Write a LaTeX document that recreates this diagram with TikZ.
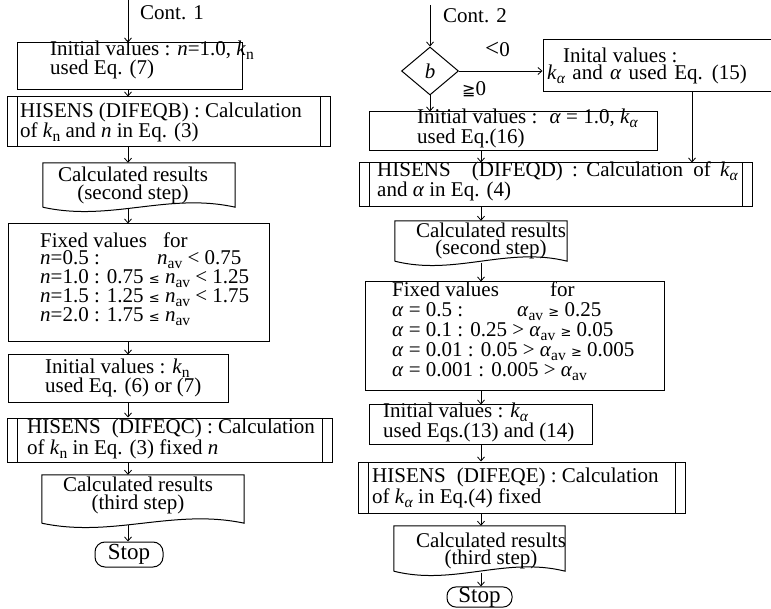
\documentclass[tikz,border=0pt]{standalone}
\usepackage{fontspec}
\setmainfont{Liberation Serif}
\newfontfamily\symfnt{DejaVu Sans}
\usetikzlibrary{arrows.meta,shapes.geometric,calc}
\newcommand\myfs[1]{\fontsize{21}{#1}\selectfont}
\newcommand\mysb[1]{\raisebox{-4pt}{\fontsize{15.5}{15.5}\selectfont #1}}
\newcommand\myal{\textit{α}}
\newcommand\myn{\textit{n}}
\newcommand\myKn{\textit{k}\mysb{n}}
\newcommand\myKa{\textit{k}\mysb{\textit{α}}}
\newcommand\myNav{\textit{n}\mysb{av}}
\newcommand\myAav{\textit{α}\mysb{av}}
\newcommand\myle{{\symfnt\fontsize{13}{13}\selectfont ≤}}
\newcommand\myge{{\symfnt\fontsize{13}{13}\selectfont ≥}}
\newcommand\docwave[1]{\draw[line width=1pt] (#1.south west) -- (#1.north west) -- (#1.north east) -- (#1.south east)
  .. controls ($(#1.south east)!0.35!(#1.south west)+(0,-15)$) and ($(#1.south west)!0.35!(#1.south east)+(0,15)$) .. (#1.south west);}
\tikzset{
  box/.style={draw, line width=1pt, inner sep=0pt},
  docbox/.style={inner sep=0pt},
  procbox/.style={draw, line width=1pt, inner sep=0pt,
    path picture={\draw[line width=1pt] ([xshift=10pt]path picture bounding box.north west) -- ([xshift=10pt]path picture bounding box.south west)
      ([xshift=-10pt]path picture bounding box.north east) -- ([xshift=-10pt]path picture bounding box.south east);}},
  stopbox/.style={draw, line width=1pt, inner sep=0pt, font=\fontsize{23}{20}\selectfont},
  txt/.style={inner sep=0pt, align=left, anchor=base west, font=\myfs{17}},
  ctxt/.style={inner sep=0pt, align=center, anchor=base, font=\myfs{17}},
  arr/.style={line width=0.8pt, -{Straight Barb[length=4pt,width=7pt]}},
}
\begin{document}
\begin{tikzpicture}[x=1pt,y=-1pt]
\useasboundingbox (0,0) rectangle (771,609);
\fill[white] (0,0) rectangle (771,609);
% ---------- left column ----------
\coordinate (Lx) at (128,0);
\node[box, minimum width=225pt, minimum height=47pt] (b1) at (129.5,66.5) {};
\node[procbox, minimum width=323pt, minimum height=50pt] (b2) at (168.5,122) {};
\node[docbox, minimum width=192pt, minimum height=44pt] (b3) at (139,185) {};
\docwave{b3}
\node[box, minimum width=261pt, minimum height=118pt] (b4) at (138.5,283) {};
\node[box, minimum width=220pt, minimum height=48pt] (b5) at (118,379) {};
\node[procbox, minimum width=325pt, minimum height=44pt] (b6) at (169.5,440) {};
\node[docbox, minimum width=202pt, minimum height=48pt] (b7) at (143,499) {};
\docwave{b7}
\node[stopbox, rounded corners=10pt, minimum width=68pt, minimum height=25pt] (b8) at (129,554.5) {Stop};

\node[txt] (cont1) at (140,20) {Cont. 1};
\node[txt] (t1) at (50,75) {Initial values : \myn=1.0, \myKn\\used Eq. (7)};
\node[txt, font=\myfs{16.5}] (t2) at (20,137.5) {HISENS (DIFEQB) : Calculation\\of \myKn{} and \myn{} in Eq. (3)};
\node[ctxt, font=\myfs{18}] (t3) at (133,200) {Calculated results\\(second step)};
\node[txt] (t4) at (40,322) {\makebox[123pt][l]{Fixed values}for\\
  \makebox[117pt][l]{\myn=0.5 :}\myNav{} < 0.75\\
  \myn=1.0 : 0.75 \myle{} \myNav{} < 1.25\\
  \myn=1.5 : 1.25 \myle{} \myNav{} < 1.75\\
  \myn=2.0 : 1.75 \myle{} \myNav};
\node[txt, font=\myfs{19}] (t5) at (45,392) {Initial values : \myKn\\used Eq. (6) or (7)};
\node[txt, font=\myfs{19}] (t6) at (27,454) {HISENS\hspace{6pt} (DIFEQC) : Calculation\\of \myKn{} in Eq. (3) fixed \myn};
\node[ctxt, font=\myfs{18}] (t7) at (138,509) {Calculated results\\(third step)};

\coordinate (c1) at (128,0);
\draw[arr] (c1) -- (b1.north -| c1);
\draw[arr] (b1.south -| Lx) -- (b2.north -| Lx);
\draw[arr] (b2.south -| Lx) -- (b3.north -| Lx);
\draw[arr] ([yshift=-1.5pt]b3.south -| Lx) -- (b4.north -| Lx);
\draw[arr] (b4.south -| Lx) -- (b5.north -| Lx);
\draw[arr] (b5.south -| Lx) -- (b6.north -| Lx);
\draw[arr] (b6.south -| Lx) -- (b7.north -| Lx);
\draw[arr] ([yshift=-1.5pt]b7.south -| Lx) -- (b8.north -| Lx);

% ---------- right column ----------
\coordinate (Rx) at (481,0);
\coordinate (Rv) at (692,0);
\coordinate (c2) at (430,5);
\node[diamond, draw, line width=1pt, minimum width=57pt, minimum height=48pt, inner sep=0pt, font=\myfs{17}] (dia) at (430,71) {\textit{b}};
\node[box, minimum width=232pt, minimum height=52pt] (r1) at (659,66) {};
\node[box, minimum width=288pt, minimum height=39pt] (r2) at (513,131.5) {};
\node[procbox, minimum width=393pt, minimum height=44pt] (r3) at (555.5,185) {};
\node[docbox, minimum width=172pt, minimum height=40pt] (r4) at (481,241) {};
\docwave{r4}
\node[box, minimum width=299pt, minimum height=109pt] (r5) at (514.5,336.5) {};
\node[box, minimum width=223pt, minimum height=39pt] (r6) at (480.5,424.5) {};
\node[procbox, minimum width=327pt, minimum height=51pt] (r7) at (521.5,487.5) {};
\node[docbox, minimum width=171pt, minimum height=45pt] (r8) at (479.5,548.5) {};
\docwave{r8}
\node[stopbox, rounded corners=9pt, minimum width=65pt, minimum height=20pt] (r9) at (479.5,597) {Stop};

\node[txt] (cont2) at (443,23) {Cont. 2};
\node[txt] (lt) at (485,57) {{\fontsize{25}{25}\selectfont <}0};
\node[txt] (ge) at (462,96) {{\symfnt\fontsize{16}{16}\selectfont ≧}0};
\node[txt] (u1) at (547,80) {\hspace{16pt}Inital values :\\\myKa{}\hspace{2pt} and\hspace{2pt} \myal{}\hspace{2pt} used\hspace{2pt} Eq.\hspace{2pt} (15)};
\node[txt, font=\myfs{15.5}] (u2) at (417,143.5) {Initial values : \ \myal{} = 1.0, \myKa\\used Eq.(16)};
\node[txt, font=\myfs{16.5}] (u3) at (377,196.5) {HISENS\hspace{16pt} (DIFEQD)\hspace{4pt} :\hspace{3pt} Calculation\hspace{5pt} of\hspace{4pt} \myKa\\and \myal{} in Eq. (4)};
\node[ctxt, font=\myfs{17}] (u4) at (491,255) {Calculated results\\(second step)};
\node[txt, font=\myfs{20}] (u5) at (392,377) {\makebox[158pt][l]{Fixed values}for\\
  \makebox[125pt][l]{\myal{} = 0.5 :}\myAav{} \myge{} 0.25\\
  \myal{} = 0.1 : 0.25 > \myAav{} \myge{} 0.05\\
  \myal{} = 0.01 : 0.05 > \myAav{} \myge{} 0.005\\
  \myal{} = 0.001 : 0.005 > \myAav};
\node[txt] (u6) at (383,437) {Initial values : \myKa\\used Eqs.(13) and (14)};
\node[txt, font=\myfs{18}] (u7) at (372,503) {HISENS\hspace{6pt} (DIFEQE) : Calculation\\of \myKa{} in Eq.(4) fixed};
\node[ctxt, font=\myfs{17}] (u8) at (491,564.5) {Calculated results\\(third step)};

\draw[arr] (c2) -- (dia.north);
\draw[arr] (dia.east) -- (dia.east -| r1.west);
\draw[arr] (dia.south) -- (r2.north -| dia.south);
\draw[arr] (r2.south -| Rx) -- (r3.north -| Rx);
\draw[arr] (r1.south -| Rv) -- (r3.north -| Rv);
\draw[arr] (r3.south -| Rx) -- (r4.north -| Rx);
\draw[arr] ([yshift=-1.5pt]r4.south -| Rx) -- (r5.north -| Rx);
\draw[arr] (r5.south -| Rx) -- (r6.north -| Rx);
\draw[arr] (r6.south -| Rx) -- (r7.north -| Rx);
\draw[arr] (r7.south -| Rx) -- (r8.north -| Rx);
\draw[arr] ([yshift=-1.5pt]r8.south -| Rx) -- (r9.north -| Rx);
\end{tikzpicture}
\end{document}
